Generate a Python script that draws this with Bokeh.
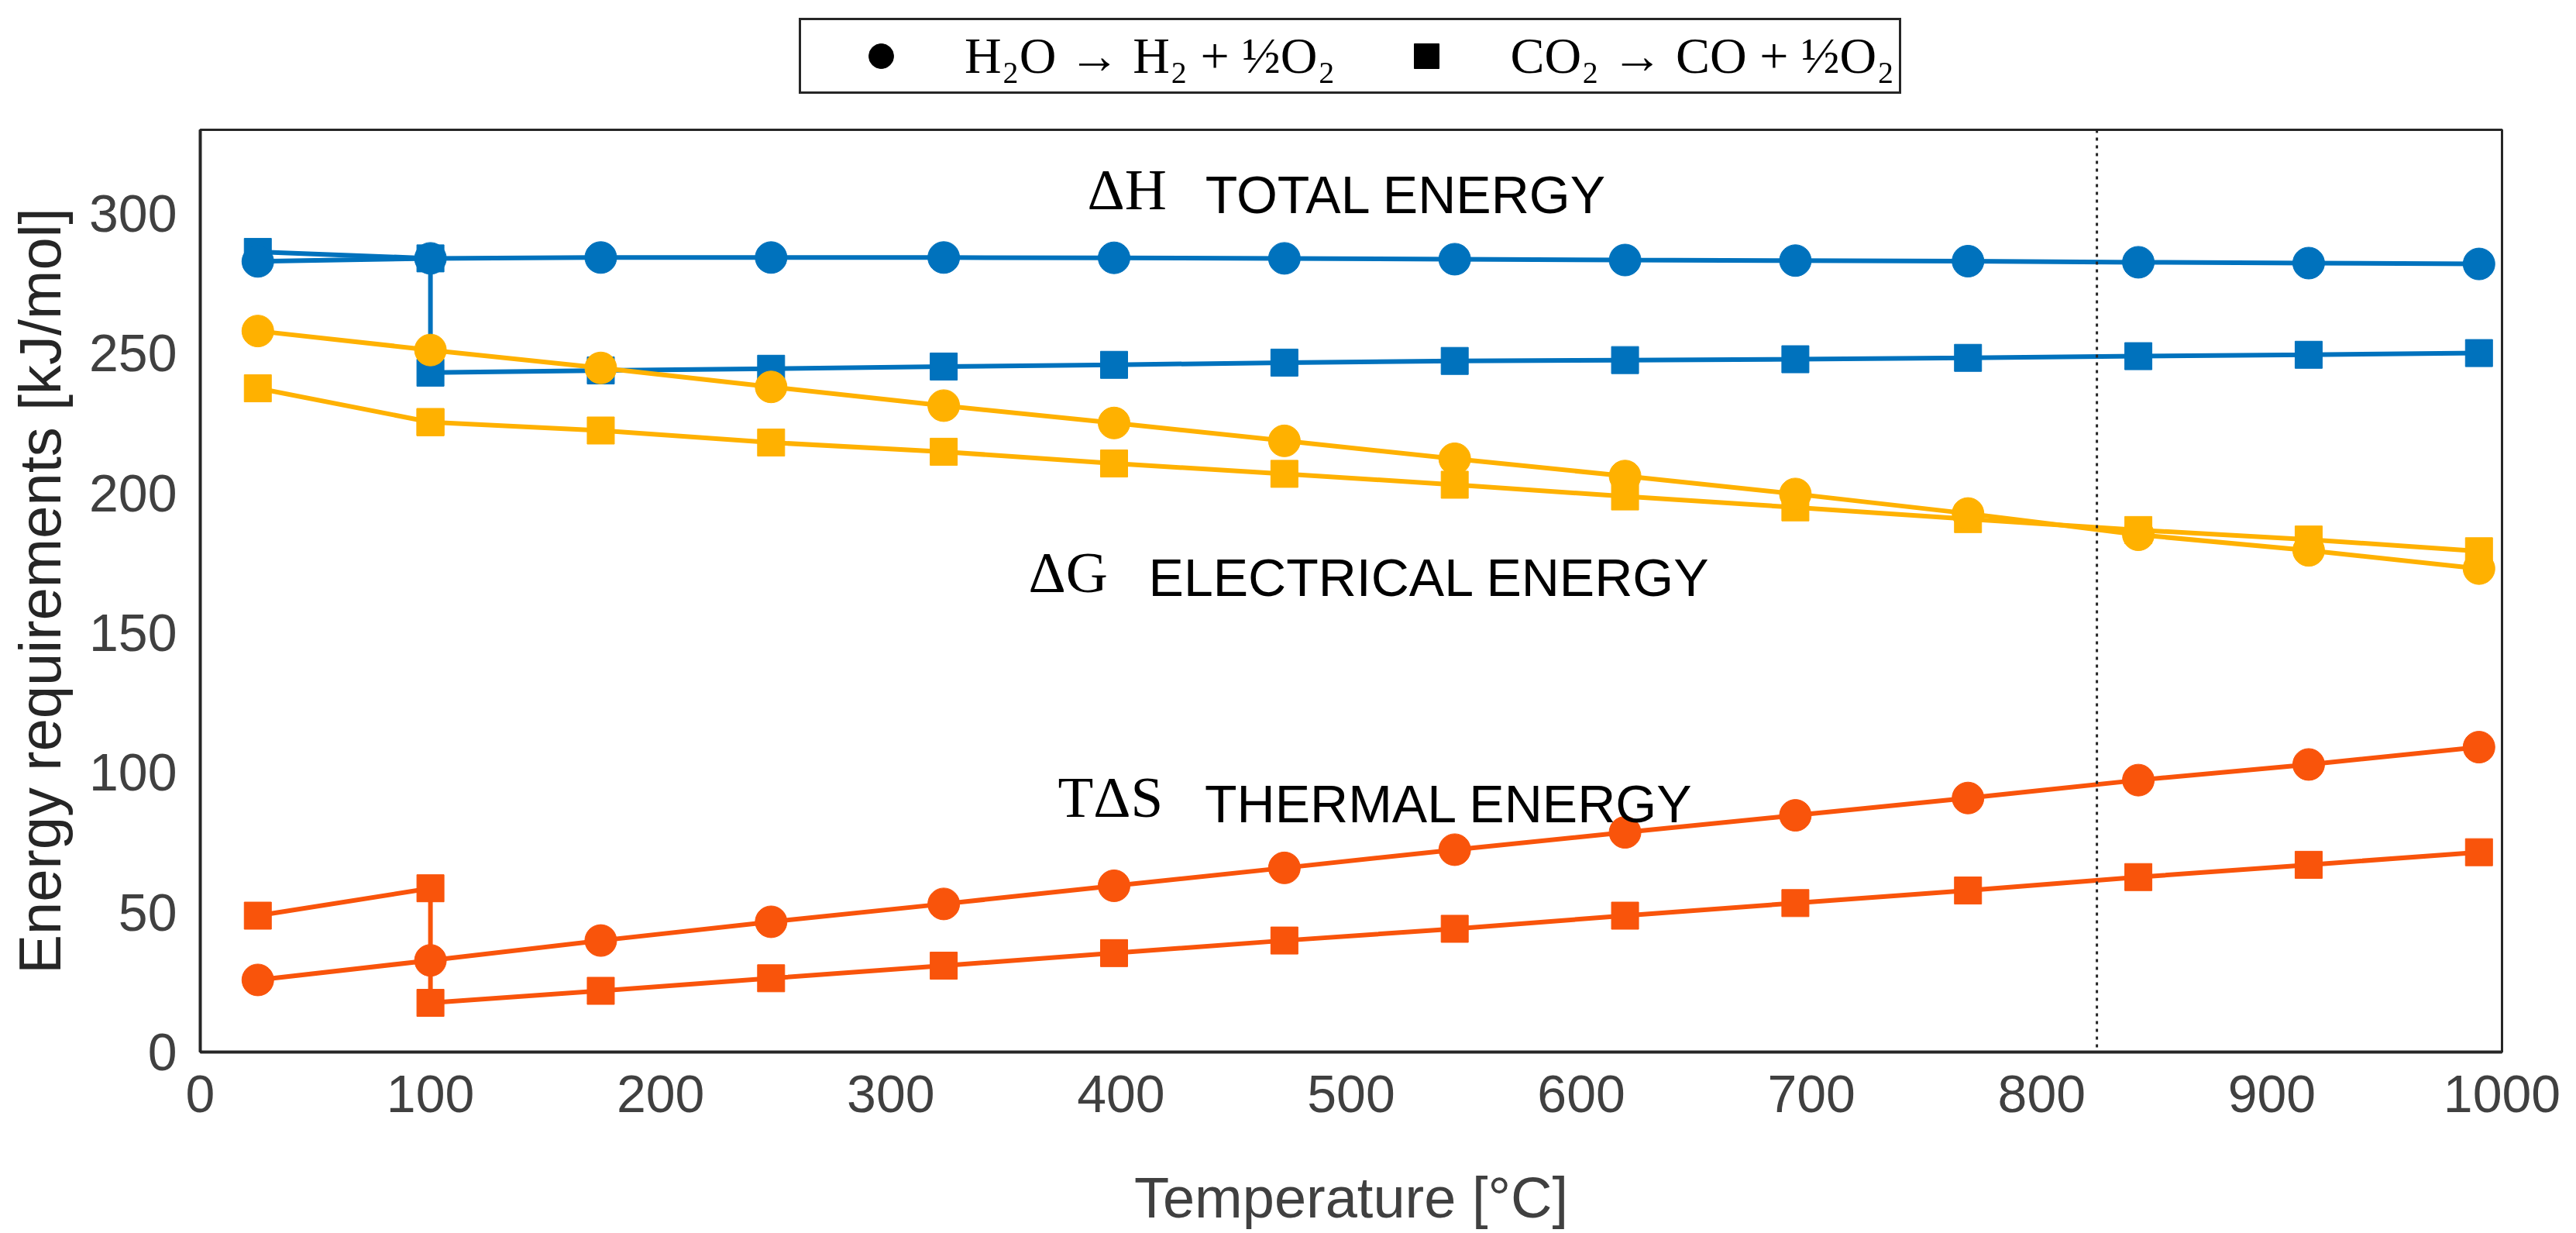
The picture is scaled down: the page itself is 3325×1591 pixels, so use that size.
from bokeh.plotting import figure
from bokeh.layouts import column
from bokeh.models import Label, Legend, LegendItem, Span, FixedTicker
from bokeh.embed import file_html
from bokeh.resources import INLINE

# temperatures [°C]
temp_circ = [25, 100, 174, 248, 323, 397, 471, 545, 619, 693, 768, 842, 916, 990]
# the square series jumps at 100 °C (liquid -> vapour), so 100 appears twice
temp_sq = [25, 100, 100, 174, 248, 323, 397, 471, 545, 619, 693, 768, 842, 916, 990]

# circles (legend: H2O -> H2 + 1/2 O2), kJ/mol
dh_circ = [282.9, 284.0, 284.3, 284.3, 284.3, 284.2, 284.0, 283.7, 283.4, 283.2, 283.0, 282.6, 282.3, 282.0]
dg_circ = [258.0, 251.2, 244.8, 238.0, 231.3, 225.1, 218.7, 212.3, 206.1, 199.7, 192.7, 185.1, 179.5, 173.0]
tds_circ = [25.8, 32.8, 39.9, 46.6, 53.0, 59.5, 65.9, 72.4, 78.6, 84.7, 90.9, 97.3, 102.9, 109.1]

# squares (legend: CO2 -> CO + 1/2 O2), kJ/mol
dh_sq = [286.3, 284.0, 243.1, 243.9, 244.5, 245.3, 245.9, 246.7, 247.3, 247.6, 247.9, 248.4, 249.0, 249.5, 250.1]
dg_sq = [237.5, 225.4, 225.4, 222.4, 218.1, 214.8, 210.6, 206.9, 203.0, 198.8, 194.9, 190.7, 186.8, 183.4, 179.2]
tds_sq = [48.8, 58.6, 17.6, 21.9, 26.4, 30.9, 35.4, 39.9, 44.1, 48.8, 53.3, 57.8, 62.6, 67.0, 71.5]

crossover_t = 824

x_ticks = [0, 100, 200, 300, 400, 500, 600, 700, 800, 900, 1000]
y_ticks = [0, 50, 100, 150, 200, 250, 300]

BLUE = "#0072BD"
YELLOW = "#FFB100"
ORANGE = "#F9540B"
DARK = "#262626"
GREY = "#404040"

W = 3308

# ---- strip on top that only holds the legend ----
top = figure(width=W, height=157, x_range=(0, 1), y_range=(0, 157),
             output_backend="svg", toolbar_location=None,
             x_axis_type=None, y_axis_type=None,
             min_border=0, min_border_left=0, min_border_right=0,
             min_border_top=0, min_border_bottom=0)
top.grid.visible = False
top.outline_line_color = None

# one hidden point each, outside the ranges: only used for the black legend markers
leg_circ = top.scatter([-1], [-100], marker="circle", color="black")
leg_sq = top.scatter([-1], [-100], marker="square", color="black")
legend = Legend(items=[LegendItem(label="H₂O → H₂ + ½O₂", renderers=[leg_circ]),
                       LegendItem(label="CO₂ → CO + ½O₂", renderers=[leg_sq])],
                orientation="horizontal", location=(773, 36),
                glyph_width=194, glyph_height=80, label_standoff=11, spacing=21,
                padding=6, margin=0,
                label_text_font="Liberation Serif", label_text_font_size="66px",
                label_text_color="black",
                border_line_color=DARK, border_line_width=3, border_line_alpha=1,
                background_fill_color="white", background_fill_alpha=1)
top.add_layout(legend)

# ---- main chart ----
p = figure(width=W, height=10 + 1197 + 225, x_range=(0, 1000), y_range=(0, 330),
           output_backend="svg", toolbar_location=None,
           min_border_left=258, min_border_right=W - 3229,
           min_border_top=10, min_border_bottom=225)

p.grid.visible = False
p.outline_line_color = DARK
p.outline_line_width = 3

p.xaxis.ticker = FixedTicker(ticks=x_ticks)
p.yaxis.ticker = FixedTicker(ticks=y_ticks)
for ax in (p.xaxis[0], p.yaxis[0]):
    ax.major_tick_line_color = None
    ax.minor_tick_line_color = None
    ax.major_tick_in = 0
    ax.major_tick_out = 0
    ax.minor_tick_out = 0
    ax.major_label_text_font = "Liberation Sans"
    ax.major_label_text_font_size = "68px"
    ax.major_label_text_color = GREY
    ax.major_label_standoff = 30
    ax.axis_line_color = DARK
    ax.axis_line_width = 4
    ax.axis_label_text_font = "Liberation Sans"
    ax.axis_label_text_font_style = "normal"

p.xaxis.axis_label = "Temperature [°C]"
p.xaxis.axis_label_text_font_size = "74px"
p.xaxis.axis_label_text_color = GREY
p.xaxis.axis_label_standoff = 66

p.yaxis.axis_label = "Energy requirements [kJ/mol]"
p.yaxis.axis_label_text_font_size = "76px"
p.yaxis.axis_label_text_color = DARK
p.yaxis.axis_label_standoff = 18

p.add_layout(Span(location=crossover_t, dimension="height", line_color=DARK,
                  line_width=3, line_dash="4 6"))

for color, y_sq, y_circ in ((BLUE, dh_sq, dh_circ),
                            (YELLOW, dg_sq, dg_circ),
                            (ORANGE, tds_sq, tds_circ)):
    p.line(temp_sq, y_sq, line_color=color, line_width=6)
    p.scatter(temp_sq, y_sq, marker="square", size=35, color=color)
    p.line(temp_circ, y_circ, line_color=color, line_width=6)
    p.scatter(temp_circ, y_circ, marker="circle", size=41, color=color)


# labels for the three curve families (anchored at the middle of the text)
def note(x, y, text, serif):
    p.add_layout(Label(x=x, y=y, text=text, text_align="left", text_baseline="middle",
                       text_font="Liberation Serif" if serif else "Liberation Sans",
                       text_font_size="75px" if serif else "68px", text_color="black"))


note(385.4, 308.6, "ΔH", True)
note(436.6, 306.8, "TOTAL ENERGY", False)
note(359.8, 171.6, "ΔG", True)
note(412.0, 169.9, "ELECTRICAL ENERGY", False)
note(372.6, 91.2, "TΔS", True)
note(436.4, 88.8, "THERMAL ENERGY", False)

layout = column(top, p, spacing=0)
open("out.html", "w").write(file_html(layout, INLINE))
